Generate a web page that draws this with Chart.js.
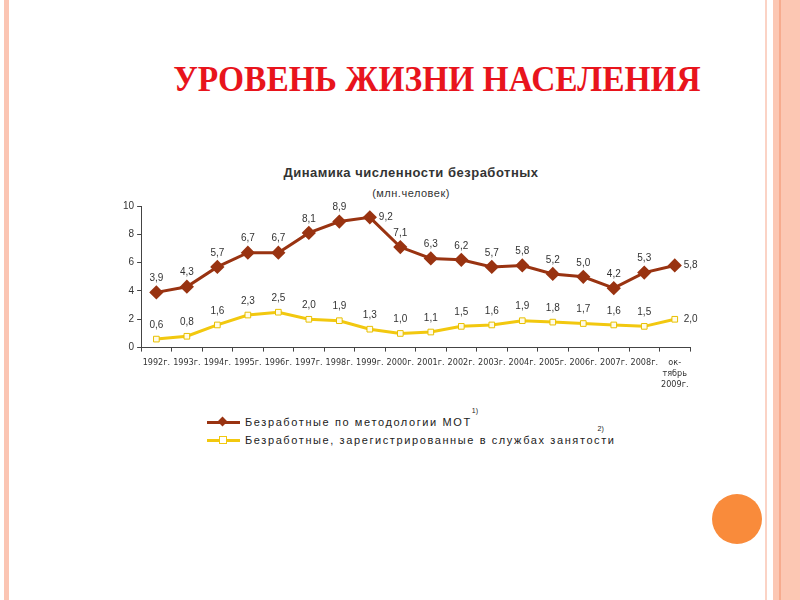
<!DOCTYPE html>
<html>
<head>
<meta charset="utf-8">
<script src="https://cdn.jsdelivr.net/npm/chart.js@4"></script>
<style>
  body { margin: 0; background: #fff; }
  #slide { position: relative; width: 800px; height: 600px; overflow: hidden; background: #fff; font-family: Arial, "Liberation Sans", sans-serif; }
  .bl { position: absolute; top: 0; height: 600px; }
  #title { position: absolute; left: 0; width: 874px; top: 58px; text-align: center; font-family: "Liberation Serif", "Times New Roman", serif; font-weight: bold; font-size: 36px; color: #e8141c; transform: scaleX(0.93); transform-origin: 437px 0; white-space: nowrap; }
  #ctitle { position: absolute; left: 200px; width: 422px; top: 165px; text-align: center; font-weight: bold; font-size: 13px; letter-spacing: 0.5px; color: #333; }
  #csub { position: absolute; left: 200px; width: 422px; top: 187px; text-align: center; font-size: 11px; color: #333; letter-spacing: 0.5px; }
  #wrap { position: absolute; left: 100px; top: 160px; width: 610px; height: 240px; }
  .leg { position: absolute; left: 207px; font-size: 11px; letter-spacing: 1.6px; color: #222; }
  .leg .ln { position: absolute; left: 0; top: 6px; width: 33px; height: 3px; }
  .leg .tx { position: absolute; left: 38px; top: 0; white-space: nowrap; }
  sup { font-size: 7px; letter-spacing: 0; }
</style>
</head>
<body>
<div id="slide">
  <div class="bl" style="left:4px;width:5px;background:#fbc5b3"></div>
  <div class="bl" style="left:765px;width:2px;background:#fbd3c5"></div>
  <div class="bl" style="left:773px;width:27px;background:#fcc7b3"></div>
  <div class="bl" style="left:779px;width:2px;background:#f7ab8e"></div>
  <div id="title">УРОВЕНЬ ЖИЗНИ НАСЕЛЕНИЯ</div>
  <div style="position:absolute;left:712px;top:494px;width:50px;height:50px;border-radius:50%;background:#f98b3b"></div>
  <div id="ctitle">Динамика численности безработных</div>
  <div id="csub">(млн.человек)</div>
  <div id="wrap"><canvas id="chart"></canvas></div>
  <div class="leg" style="top:415px;">
    <div class="ln" style="background:#993311"></div>
    <div style="position:absolute;left:12px;top:3px;width:7px;height:7px;background:#993311;transform:rotate(45deg)"></div>
    <div class="tx">Безработные по методологии МОТ<sup style="position:relative;top:-8px">1)</sup></div>
  </div>
  <div class="leg" style="top:433px;">
    <div class="ln" style="background:#f2c80f"></div>
    <div style="position:absolute;left:12px;top:3px;width:6px;height:6px;background:#fff;border:1px solid #f2c80f"></div>
    <div class="tx">Безработные, зарегистрированные в службах занятости<sup style="position:relative;top:-8px;left:-18px">2)</sup></div>
  </div>
</div>
<script>
// categories and values
const years = ['1992г.', '1993г.', '1994г.', '1995г.', '1996г.', '1997г.', '1998г.', '1999г.', '2000г.',
  '2001г.', '2002г.', '2003г.', '2004г.', '2005г.', '2006г.', '2007г.', '2008г.', ['ок-', 'тябрь', '2009г.']];
const unemployedMOT = [3.9, 4.3, 5.7, 6.7, 6.7, 8.1, 8.9, 9.2, 7.1, 6.3, 6.2, 5.7, 5.8, 5.2, 5.0, 4.2, 5.3, 5.8];
const unemployedReg = [0.6, 0.8, 1.6, 2.3, 2.5, 2.0, 1.9, 1.3, 1.0, 1.1, 1.5, 1.6, 1.9, 1.8, 1.7, 1.6, 1.5, 2.0];
const yTicks = [0, 2, 4, 6, 8, 10];

// value labels next to the points
const valueLabels = {
  id: 'valueLabels',
  afterDatasetsDraw(chart) {
    const ctx = chart.ctx;
    ctx.save();
    ctx.font = '10px Arial, "Liberation Sans", sans-serif';
    ctx.fillStyle = '#333';
    ctx.textBaseline = 'middle';
    chart.data.datasets.forEach((ds, di) => {
      const meta = chart.getDatasetMeta(di);
      meta.data.forEach((pt, i) => {
        const txt = ds.data[i].toFixed(1).replace('.', ',');
        const last = i === ds.data.length - 1;
        if (last || (di === 0 && i === 7)) {
          ctx.textAlign = 'left';
          ctx.fillText(txt, pt.x + 9, pt.y);
        } else {
          ctx.textAlign = 'center';
          ctx.fillText(txt, pt.x, pt.y - 14);
        }
      });
    });
    ctx.restore();
  }
};

new Chart(document.getElementById('chart'), {
  type: 'line',
  data: {
    labels: years,
    datasets: [{
      label: 'Безработные по методологии МОТ',
      data: unemployedMOT,
      borderColor: '#993311',
      backgroundColor: '#993311',
      borderWidth: 3,
      pointStyle: 'rectRot',
      pointRadius: 5,
      pointBackgroundColor: '#993311',
      pointBorderColor: '#993311',
      tension: 0
    }, {
      label: 'Безработные, зарегистрированные в службах занятости',
      data: unemployedReg,
      borderColor: '#f2c80f',
      backgroundColor: '#fff',
      borderWidth: 3,
      pointStyle: 'rect',
      pointRadius: 4,
      pointBorderWidth: 1,
      pointBackgroundColor: '#fffbe8',
      pointBorderColor: '#e8c000',
      tension: 0
    }]
  },
  options: {
    responsive: true,
    maintainAspectRatio: false,
    animation: false,
    layout: { padding: { left: 20, right: 20, top: 46, bottom: 4 } },
    plugins: { legend: { display: false }, tooltip: { enabled: false } },
    scales: {
      x: {
        offset: true,
        border: { color: '#444', width: 1 },
        grid: { display: true, drawOnChartArea: false, drawTicks: true, tickLength: 4, color: '#444', offset: true },
        ticks: { color: '#333', font: { size: 9, family: '"DejaVu Sans Condensed", "Liberation Sans Narrow", Arial, sans-serif' }, maxRotation: 0, autoSkip: false, padding: 6 }
      },
      y: {
        min: 0, max: 10,
        afterBuildTicks(axis) { axis.ticks = yTicks.map(v => ({ value: v })); },
        border: { color: '#444', width: 1 },
        grid: { display: true, drawOnChartArea: false, drawTicks: true, tickLength: 4, color: '#444' },
        ticks: { color: '#333', font: { size: 10 }, padding: 3 }
      }
    }
  },
  plugins: [valueLabels]
});
</script>
</body>
</html>
